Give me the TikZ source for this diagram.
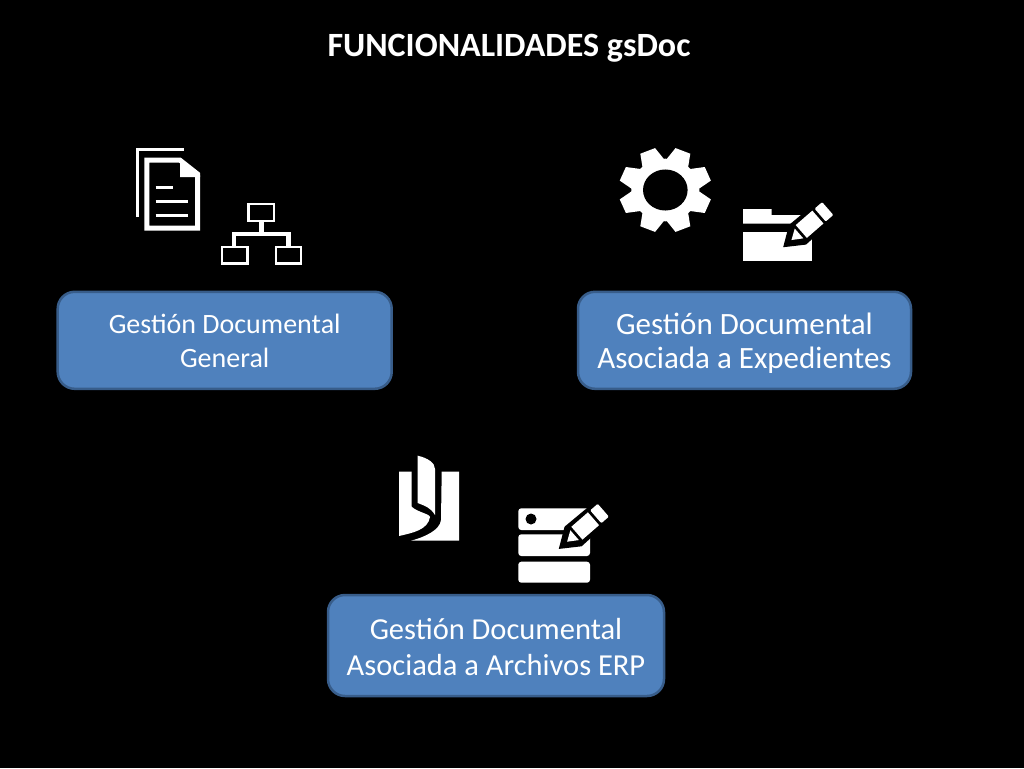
\documentclass[tikz,border=0pt]{standalone}
\usepackage{fontspec}
\setmainfont{Carlito}
\definecolor{boxfill}{HTML}{4F81BD}
\definecolor{boxline}{HTML}{385D8A}
\tikzset{
	funcbox/.style={draw=boxline, line width=2.5pt, fill=boxfill, rounded corners=17pt, text=white, align=center, inner sep=0pt},
	iconline/.style={draw=white, line width=2.6pt},
	pencil/.pic={
		\fill[black] (-6,0) -- (13,-13) -- (58,-12) -- (58,12) -- (13,13) -- cycle;
		\fill[white] (5,0) -- (15,-6.5) -- (15,6.5) -- cycle;
		\fill[white] (18,-8.5) -- (40,-8.5) -- (40,8.5) -- (18,8.5) -- cycle;
		\fill[white, rounded corners=1pt] (43,-8.5) -- (53,-8.5) -- (53,8.5) -- (43,8.5) -- cycle;
	},
}
\begin{document}
\begin{tikzpicture}[x=1pt, y=-1pt]
		\fill[black] (0,0) rectangle (1024,768);
		\draw (509,48) node[text=white, font=\fontsize{34}{40}\selectfont\bfseries] (title) {FUNCIONALIDADES gsDoc};
		
		\draw (224.7,340.3) node[funcbox, minimum width=334pt, minimum height=97pt, font=\fontsize{28}{34}\selectfont] (general) {\rule{0pt}{21pt}Gestión Documental\\General};
		\draw (744.5,340.3) node[funcbox, minimum width=333pt, minimum height=97pt, font=\fontsize{31}{34}\selectfont] (expedientes) {\rule{0pt}{27pt}Gestión Documental\\Asociada a Expedientes};
		\draw (496,645.5) node[funcbox, minimum width=336pt, minimum height=101pt, font=\fontsize{30.5}{36}\selectfont] (archivos) {\rule{0pt}{23.5pt}Gestión Documental\\Asociada a Archivos ERP};
		
		% documents
		\draw[white, line width=3.2pt] (137.3,217) -- (137.3,149.3) -- (183.5,149.3);
		\draw[white, line width=5pt, line join=miter] (146.8,228.2) -- (146.8,160.2) -- (180,160.2) -- (197.5,174) -- (197.5,228.2) -- cycle;
		\fill[white] (180,160) -- (200,175.5) -- (200,177) -- (180,177) -- cycle;
		\draw[white, line width=3pt] (155.5,187) -- (172.5,187);
		\draw[white, line width=3pt] (155.5,201.3) -- (188,201.3);
		\draw[white, line width=3pt] (155.5,215.7) -- (188,215.7);
		
		% org chart
		\draw[iconline] (248.6,204) rectangle (274,221);
		\draw[iconline] (222,247) rectangle (247.4,263.7);
		\draw[iconline] (276,247) rectangle (301,263.7);
		\draw[white, line width=4.5pt] (261.3,222) -- (261.3,234);
		\draw[white, line width=4.5pt] (234,246) -- (234,234) -- (288.7,234) -- (288.7,246);
		
		% gear
		\begin{scope}[shift={(665.3,190)}, yscale=0.92]
			\fill[white] (0,0) circle (34);
			\foreach \ang in {22.5,67.5,...,337.5}
				\fill[white, rotate=\ang] (30,-12) -- (46,-8) -- (46,8) -- (30,12) -- cycle;
			\fill[black] (0,0) circle (22.3);
		\end{scope}
		
		% folder
		\fill[white] (743,209) -- (771.5,209) -- (771.5,215) -- (812,215) -- (812,223.5) -- (743,223.5) -- cycle;
		\fill[white] (743,231.7) -- (812,231.7) -- (812,261) -- (743,261) -- cycle;
		\draw (787.7,243.3) pic[rotate=41] {pencil};
		
		% book
		\fill[white] (399,471.7) -- (411.7,471.7) -- (411.7,506.7) .. controls (417,512) and (430,514) .. (430,517) .. controls (428,530) and (412,533) .. (399,536) -- cycle;
		\fill[white] (417.7,455.7) .. controls (428,458) and (435,463) .. (435,469) -- (435,515) .. controls (430,507) and (425,506) .. (417.7,503) -- cycle;
		\fill[white] (441.7,471.7) -- (459,471.7) -- (459,540.7) -- (411,540.7) .. controls (425,537) and (440,530) .. (441,520) -- cycle;
		
		% records
		\fill[white, rounded corners=3pt] (518.3,508.3) rectangle (590,530);
		\fill[white, rounded corners=3pt] (518.3,534.3) rectangle (590,556);
		\fill[white, rounded corners=3pt] (518.3,561.7) rectangle (590,582.7);
		\fill[black] (531,519) circle (5.5);
		\draw (563.3,545) pic[rotate=41] {pencil};
	\end{tikzpicture}
\end{document}
